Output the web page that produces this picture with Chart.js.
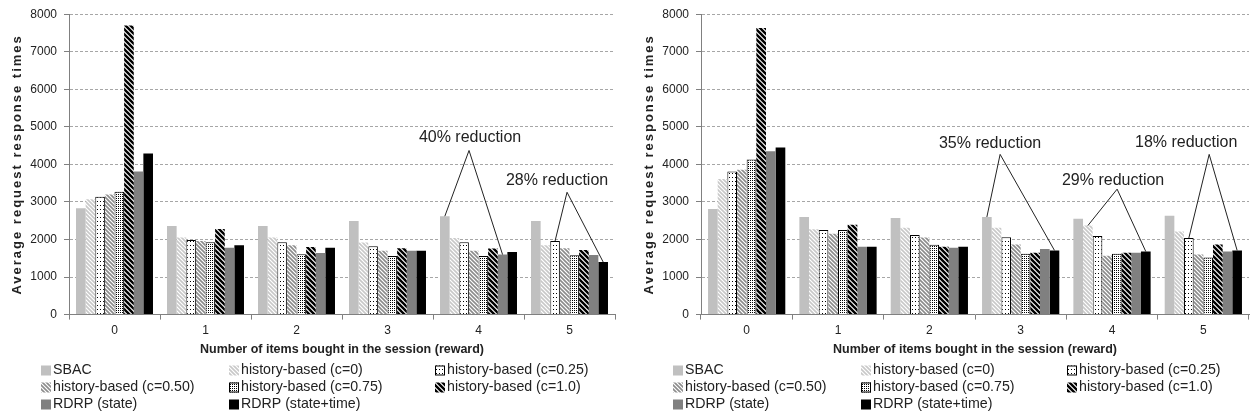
<!DOCTYPE html>
<html>
<head>
<meta charset="utf-8">
<script src="https://cdn.jsdelivr.net/npm/chart.js@4.4.1/dist/chart.umd.min.js"></script>
<style>
  body { margin: 0; background: #fff; }
  #wrap { position: relative; width: 1252px; height: 420px; }
  canvas { position: absolute; top: 0; }
</style>
</head>
<body>
<div id="wrap">
  <canvas id="leftChart" width="620" height="420" style="left:0px"></canvas>
  <canvas id="rightChart" width="620" height="420" style="left:632px"></canvas>
</div>
<script>
const categories = ['0', '1', '2', '3', '4', '5'];
const seriesNames = [
  'SBAC', 'history-based (c=0)', 'history-based (c=0.25)',
  'history-based (c=0.50)', 'history-based (c=0.75)', 'history-based (c=1.0)',
  'RDRP (state)', 'RDRP (state+time)'
];
const yTicks = [0, 8000, 1000];

// left chart
const sbacL   = [2830, 2360, 2360, 2490, 2620, 2490];
const hist0L  = [3070, 2050, 2050, 1920, 2040, 1850];
const hist25L = [3140, 1990, 1930, 1820, 1930, 1960];
const hist50L = [3200, 1960, 1850, 1700, 1700, 1770];
const hist75L = [3270, 1930, 1610, 1560, 1560, 1580];
const hist1L  = [7700, 2280, 1800, 1770, 1760, 1720];
const rdrpL   = [3810, 1780, 1640, 1700, 1600, 1590];
const rdrptL  = [4290, 1850, 1780, 1700, 1670, 1400];

// right chart
const sbacR   = [2810, 2600, 2570, 2600, 2550, 2630];
const hist0R  = [3610, 2270, 2310, 2310, 2370, 2210];
const hist25R = [3810, 2250, 2120, 2060, 2090, 2040];
const hist50R = [3860, 2150, 2050, 1870, 1570, 1600];
const hist75R = [4130, 2250, 1860, 1620, 1620, 1520];
const hist1R  = [7630, 2390, 1810, 1650, 1650, 1870];
const rdrpR   = [4350, 1810, 1780, 1750, 1650, 1680];
const rdrptR  = [4450, 1810, 1810, 1710, 1680, 1710];

// callouts: label, where the text sits, where the lines meet, and which bars (dataset, category) they point at
const notesL = [
  { text: '40% reduction', tx: 3.907, ty: 4715, ax: 3.896, ay: 4371, to: [[0, 4], [6, 4]] },
  { text: '28% reduction', tx: 4.863, ty: 3576, ax: 4.973, ay: 3258, to: [[2, 5], [7, 5]] }
];
const notesR = [
  { text: '35% reduction', tx: 2.665, ty: 4558, ax: 2.775, ay: 4267, to: [[0, 3], [7, 3]] },
  { text: '29% reduction', tx: 4.012, ty: 3579, ax: 4.056, ay: 3341, to: [[1, 4], [7, 4]] },
  { text: '18% reduction', tx: 4.812, ty: 4584, ax: 5.064, ay: 4267, to: [[2, 5], [7, 5]] }
];

const FONT = '"Liberation Sans", Arial, sans-serif';

function stripes(color, period, lw) {
  const c = document.createElement('canvas');
  c.width = c.height = period;
  const x = c.getContext('2d');
  x.fillStyle = '#fff';
  x.fillRect(0, 0, period, period);
  x.strokeStyle = color;
  x.lineWidth = lw;
  x.beginPath();
  x.moveTo(-1, -1); x.lineTo(period + 1, period + 1);
  x.moveTo(-1, period - 1); x.lineTo(1, period + 1);
  x.moveTo(period - 1, -1); x.lineTo(period + 1, 1);
  x.stroke();
  return x.createPattern(c, 'repeat');
}

function dots(w, h, pts) {
  const c = document.createElement('canvas');
  c.width = w; c.height = h;
  const x = c.getContext('2d');
  x.fillStyle = '#fff';
  x.fillRect(0, 0, w, h);
  x.fillStyle = '#000';
  pts.forEach(p => x.fillRect(p[0], p[1], 1, 1));
  return x.createPattern(c, 'repeat');
}

const fills = [
  '#c0c0c0',
  stripes('#c8c8c8', 4, 1.6),
  dots(3, 4, [[1, 1]]),
  stripes('#8c8c8c', 4, 1.6),
  dots(2, 2, [[0, 0]]),
  stripes('#000', 5, 2.4),
  '#808080',
  '#000000'
];
const borders = [0, 0, 1, 0, 1, 0, 0, 0];

function makeDatasets(series) {
  return series.map((vals, i) => ({
    label: seriesNames[i],
    data: vals,
    backgroundColor: fills[i],
    borderColor: '#000',
    borderWidth: borders[i],
    categoryPercentage: 0.846,
    barPercentage: 1.0
  }));
}

const notesPlugin = {
  id: 'notes',
  afterDatasetsDraw(chart, args, opts) {
    const ctx = chart.ctx;
    const xs = chart.scales.x, ys = chart.scales.y;
    ctx.save();
    ctx.strokeStyle = '#222';
    ctx.lineWidth = 1;
    ctx.fillStyle = '#222';
    ctx.font = '16px ' + FONT;
    ctx.textAlign = 'center';
    ctx.textBaseline = 'middle';
    (opts.items || []).forEach(n => {
      const ax = xs.getPixelForValue(n.ax), ay = ys.getPixelForValue(n.ay);
      n.to.forEach(t => {
        const bar = chart.getDatasetMeta(t[0]).data[t[1]];
        ctx.beginPath();
        ctx.moveTo(ax, ay);
        ctx.lineTo(bar.x, bar.y);
        ctx.stroke();
      });
      ctx.fillText(n.text, xs.getPixelForValue(n.tx), ys.getPixelForValue(n.ty));
    });
    ctx.restore();
  }
};

const extrasPlugin = {
  id: 'extras',
  afterDraw(chart) {
    const ctx = chart.ctx;
    const area = chart.chartArea;
    ctx.save();
    // y axis title
    ctx.translate(17, (area.top + area.bottom) / 2);
    ctx.rotate(-Math.PI / 2);
    ctx.font = 'bold 13px ' + FONT;
    ctx.letterSpacing = '2px';
    ctx.fillStyle = '#222';
    ctx.textAlign = 'center';
    ctx.textBaseline = 'middle';
    ctx.fillText('Average request response times', 0, 0);
    ctx.restore();

    // legend, three columns
    ctx.save();
    const colX = [41, 229, 435];
    const rowY = [370.5, 387.5, 404.5];
    ctx.font = '14.2px ' + FONT;
    ctx.textBaseline = 'middle';
    ctx.textAlign = 'left';
    chart.data.datasets.forEach((ds, i) => {
      const x = colX[i % 3], y = rowY[Math.floor(i / 3)];
      ctx.fillStyle = ds.backgroundColor;
      ctx.fillRect(x, y - 5, 10, 10);
      if (ds.borderWidth) {
        ctx.strokeStyle = '#000';
        ctx.lineWidth = 1;
        ctx.strokeRect(x + 0.5, y - 4.5, 9, 9);
      }
      ctx.fillStyle = '#222';
      ctx.fillText(ds.label, x + 12, y);
    });
    ctx.restore();
  }
};

function buildChart(id, series, notes, padRight) {
  return new Chart(id, {
    type: 'bar',
    data: { labels: categories, datasets: makeDatasets(series) },
    plugins: [notesPlugin, extrasPlugin],
    options: {
      responsive: false,
      animation: false,
      layout: { padding: { top: 13, left: 0, right: padRight, bottom: 63 } },
      plugins: {
        legend: { display: false },
        tooltip: { enabled: false },
        notes: { items: notes }
      },
      scales: {
        x: {
          grid: { offset: true, drawOnChartArea: false, tickLength: 5, color: '#808080' },
          border: { color: '#808080', width: 1 },
          ticks: { color: '#222', font: { family: FONT, size: 12 }, padding: 4 },
          title: {
            display: true,
            text: 'Number of items bought in the session (reward)',
            color: '#222',
            font: { family: FONT, size: 12.5, weight: 'bold' },
            padding: { top: 0, bottom: 0 }
          }
        },
        y: {
          min: yTicks[0],
          max: yTicks[1],
          ticks: {
            stepSize: yTicks[2],
            color: '#222',
            font: { family: FONT, size: 12 },
            padding: 7,
            callback: v => String(v)
          },
          grid: { color: '#a6a6a6', tickLength: 5, tickColor: '#808080', tickBorderDash: [] },
          border: { color: '#808080', width: 1, dash: [3, 2] },
          afterFit(scale) { scale.width = 69; }
        }
      }
    }
  });
}

buildChart('leftChart', [sbacL, hist0L, hist25L, hist50L, hist75L, hist1L, rdrpL, rdrptL], notesL, 5);
buildChart('rightChart', [sbacR, hist0R, hist25R, hist50R, hist75R, hist1R, rdrpR, rdrptR], notesR, 3);
</script>
</body>
</html>
